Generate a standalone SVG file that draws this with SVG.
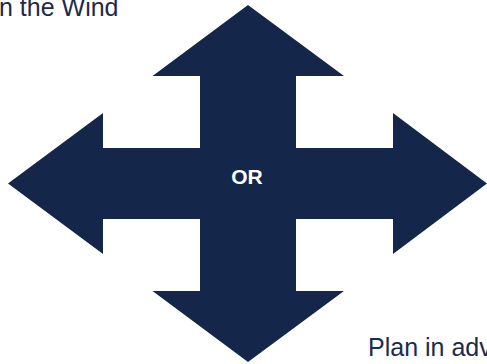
<svg xmlns="http://www.w3.org/2000/svg" width="487" height="364" viewBox="0 0 487 364">
  <style>
    .arrow { fill: #14274a; }
    .label { font-family: "Liberation Sans", Arial, sans-serif; fill: #1c2b4a; font-size: 25px; }
    .center { font-family: "Liberation Sans", Arial, sans-serif; fill: #ffffff; font-size: 21px; font-weight: bold; }
  </style>
  <rect width="487" height="364" fill="#ffffff"/>
  <g id="cross-arrow">
    <polygon class="arrow" points="248,5 344,76 296,76 296,148 393,148 393,113 487,183.5 393,254 393,219 296,219 296,291 344,291 248,362 152.5,291 200,291 200,219 103,219 103,254 8,183.5 103,113 103,148 200,148 200,76 152.5,76"/>
    <text class="center" x="247" y="183.5" text-anchor="middle">OR</text>
  </g>
  <g id="label-top-left">
    <text class="label" x="118.5" y="15.5" text-anchor="end">n the Wind</text>
  </g>
  <g id="label-bottom-right">
    <text class="label" x="368" y="356">Plan in adv</text>
  </g>
</svg>
